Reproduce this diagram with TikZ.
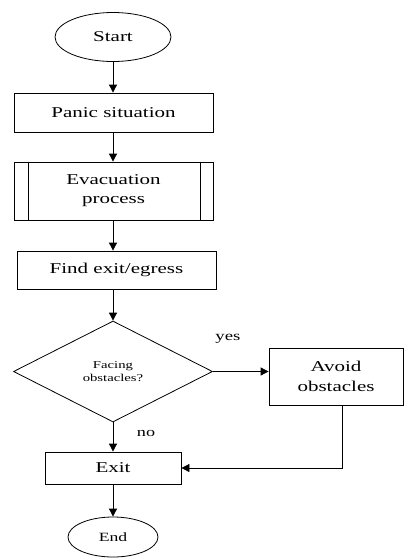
\documentclass[tikz,border=0pt]{standalone}
\usepackage{fontspec}
\setmainfont{Liberation Serif}[FakeStretch=1.4]
\usetikzlibrary{shapes.geometric,arrows.meta}

\begin{document}
\begin{tikzpicture}[x=1pt,y=-1pt,
    every node/.style={font=\fontsize{15}{19}\selectfont, align=center, inner sep=0pt},
    term/.style={draw, ellipse},
    proc/.style={draw, rectangle},
    decide/.style={draw, diamond},
    arr/.style={-{Triangle[length=8pt,width=8pt]}},
    line width=0.8pt]
    \useasboundingbox (0,0) rectangle (404,558);
    \node[term, minimum width=116pt, minimum height=49pt] (start) at (113,37) {Start};
    \node[proc, minimum width=199pt, minimum height=39pt] (panic) at (113.5,112.5) {Panic situation};
    \node[proc, minimum width=199pt, minimum height=58pt] (evac) at (113.5,191) {Evacuation\\process};
    \draw ([xshift=15pt]evac.north west) -- ([xshift=15pt]evac.south west);
    \draw ([xshift=-13pt]evac.north east) -- ([xshift=-13pt]evac.south east);
    \node[proc, minimum width=199pt, minimum height=38pt] (find) at (116.5,270) {Find exit/egress};
    \node[decide, minimum width=199pt, minimum height=101pt, font=\fontsize{10.5}{13.5}\selectfont] (dec) at (113,371.5) {Facing\\obstacles?};
    \node[proc, minimum width=134pt, minimum height=57pt, font=\fontsize{15}{20}\selectfont] (avoid) at (336,376.5) {Avoid\\obstacles};
    \node[proc, minimum width=136pt, minimum height=32pt] (exit) at (113,468) {Exit};
    \node[term, minimum width=90pt, minimum height=40pt, font=\fontsize{12.6}{15}\selectfont] (end) at (113,537) {End};
    \node[font=\fontsize{13.4}{16}\selectfont] (yes) at (228,339) {yes};
    \node[font=\fontsize{13}{16}\selectfont] (no) at (146,433) {no};
    \draw[arr] (start.south) -- (start.south |- panic.north);
    \draw[arr] (start.south |- panic.south) -- (start.south |- evac.north);
    \draw[arr] (start.south |- evac.south) -- (start.south |- find.north);
    \draw[arr] (dec.north |- find.south) -- (dec.north);
    \draw[arr] (dec.east) -- (dec.east -| avoid.west);
    \draw[arr] (dec.south) -- (exit.north);
    \draw[arr] ([xshift=6pt]avoid.south) |- (exit.east);
    \draw[arr] (exit) -- (end);
\end{tikzpicture}
\end{document}
